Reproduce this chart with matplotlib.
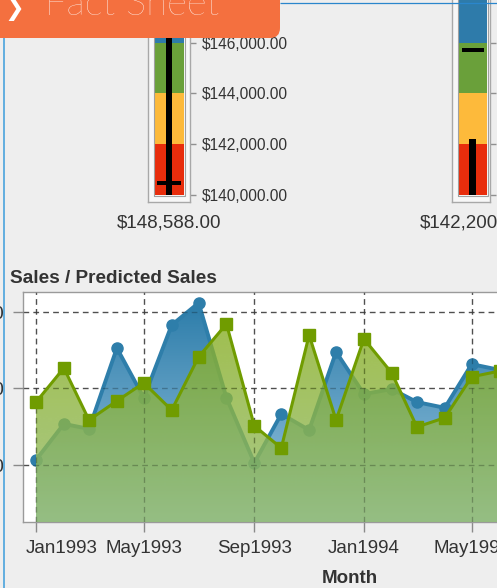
import numpy as np
import pandas as pd
import matplotlib
matplotlib.use('Agg')
import matplotlib.pyplot as plt
import matplotlib.dates as mdates
import matplotlib.transforms as mtransforms
from matplotlib.patches import Polygon, Rectangle, FancyBboxPatch
from matplotlib.ticker import FuncFormatter

plt.rcParams['font.family'] = ['Liberation Sans', 'DejaVu Sans']

W, H, DPI = 497, 588, 100

# ---------------- data ----------------
months = pd.date_range('1993-01-01', periods=18, freq='MS')
sales = [10130, 11070, 10940, 13050, 11750, 13650, 14230, 11750, 10050,
         11330, 10910, 12950, 11850, 11980, 11640, 11490, 12630, 12480]
predicted = [11640, 12530, 11170, 11670, 12140, 11430, 12820, 13680, 11020,
             10440, 13390, 11170, 13290, 12400, 10990, 11230, 12300, 12450]
sales_ticks = [10000, 12000, 14000]
month_ticks = pd.to_datetime(['1993-01-01', '1993-05-01', '1993-09-01',
                              '1994-01-01', '1994-05-01', '1994-09-01'])

gauge_values = [148588, 142200]
gauge_targets = [140470, 145710]
gauge_ticks = [140000, 142000, 144000, 146000]
band_edges = [140000, 142000, 144000, 146000, 150000]
band_colors = ['#E82D0C', '#FDBA3B', '#6AA03A', '#2E7BAA']

# ---------------- helpers ----------------
def fig_rect(x0, y0, x1, y1):
    return [x0 / W, 1 - y1 / H, (x1 - x0) / W, (y1 - y0) / H]

fig = plt.figure(figsize=(W / DPI, H / DPI), dpi=DPI, facecolor='#EEEEEE')

# ---------------- gauges ----------------
PX_PER_K = 25.38
def gval(ypx):
    return 140000 + (195 - ypx) / PX_PER_K * 1000

def draw_gauge(x0, x1, bx0, bx1, value, target, vbar_w, tgt_w):
    cx = (bx0 + bx1) / 2
    ax = fig.add_axes(fig_rect(x0, -5, x1, 202))
    ax.set_xlim(x0 - cx, x1 - cx)
    ax.set_ylim(gval(202), gval(-5))
    ax.set_facecolor('#F7F7F7')
    for s in ['left', 'right', 'bottom']:
        ax.spines[s].set_color('#A8A8A8')
        ax.spines[s].set_linewidth(1.0)
    ax.spines['top'].set_visible(False)
    half = (bx1 - bx0) / 2
    for lo, hi, c in zip(band_edges[:-1], band_edges[1:], band_colors):
        ax.bar(0, hi - lo, bottom=lo, width=2 * half, color=c, linewidth=0)
    ax.add_patch(Rectangle((-half - 0.5, band_edges[0] - 25), 2 * half + 1,
                           band_edges[-1] - band_edges[0], fill=False,
                           edgecolor='#A0A0A0', linewidth=0.8))
    ax.bar(0, value - band_edges[0], bottom=band_edges[0], width=vbar_w,
           color='black', linewidth=0, zorder=3)
    th = 4 / PX_PER_K * 1000
    ax.bar(0, th, bottom=target - th / 2, width=tgt_w, color='black',
           linewidth=0, zorder=4)
    ax.set_xticks([])
    ax.yaxis.tick_right()
    ax.set_yticks(gauge_ticks)
    ax.yaxis.set_major_formatter(FuncFormatter(lambda v, p: f'${v:,.2f}'))
    ax.tick_params(axis='y', length=4, width=1, color='#909090', pad=4.3,
                   labelsize=11.2, labelcolor='#333333')
    fig.text(cx / W, 1 - 227.7 / H, f'${value:,.2f}', ha='center',
             va='baseline', fontsize=13.5, color='#333333')

draw_gauge(148, 190, 154, 184, gauge_values[0], gauge_targets[0], 5.5, 24)
draw_gauge(452, 490, 458, 487, gauge_values[1], gauge_targets[1], 7, 22)

# ---------------- main chart ----------------
ax = fig.add_axes(fig_rect(23, 292, 677, 522))
ax.set_facecolor('white')
xl = (pd.Timestamp('1993-01-01') - pd.Timedelta(days=14.5),
      pd.Timestamp('1994-12-01') + pd.Timedelta(days=14.5))
yl = (8509, 14514)

blue = '#2E7EAA'
green = '#709C00'
ax.plot(months, sales, color=blue, lw=2.8, marker='o', ms=8,
        mfc=blue, mec=blue, zorder=3)
ax.plot(months, predicted, color=green, lw=2.2, marker='s', ms=8.5,
        mfc=green, mec=green, zorder=6)

def gradient_fill(x, y, top_rgb, bot_rgb, alpha, zorder):
    xs = mdates.date2num(x)
    verts = [(xs[0], yl[0])] + list(zip(xs, y)) + [(xs[-1], yl[0])]
    poly = Polygon(verts, closed=True, facecolor='none', edgecolor='none')
    ax.add_patch(poly)
    t = np.linspace(0, 1, 256)[:, None]
    img = np.zeros((256, 1, 4))
    top = np.array(top_rgb) / 255.0
    bot = np.array(bot_rgb) / 255.0
    img[..., :3] = (top + (bot - top) * t[..., None])
    img[..., 3] = alpha
    im = ax.imshow(img, aspect='auto', origin='upper',
                   extent=[xs[0], xs[-1], yl[0], yl[1]],
                   zorder=zorder, interpolation='bilinear')
    im.set_clip_path(poly)

gradient_fill(months, sales, (39, 121, 167), (157, 200, 226), 1.0, 2)
gradient_fill(months, predicted, (135, 173, 25), (148, 188, 108), 0.8, 4)

ax.set_xlim(*xl)
ax.set_ylim(*yl)

ax.xaxis.set_major_locator(mdates.MonthLocator(bymonth=[1, 5, 9]))
ax.xaxis.set_major_formatter(mdates.DateFormatter('%b%Y'))
ax.set_yticks(sales_ticks)
ax.yaxis.set_major_formatter(FuncFormatter(lambda v, p: f'${v:,.0f}'))

dash = (0, (4.3, 3.2))
ax.set_axisbelow(True)
ax.grid(True, color='#6A6A6A', linestyle=dash, linewidth=0.95)
for d in month_ticks:
    ax.axvline(d, color='black', alpha=0.25, linestyle=dash, lw=0.95, zorder=4.5)
for v in sales_ticks:
    ax.axhline(v, color='black', alpha=0.25, linestyle=dash, lw=0.95, zorder=4.5)

for s in ax.spines.values():
    s.set_color('#9A9A9A')
    s.set_linewidth(1.0)
ax.tick_params(axis='both', length=7.2, width=1, color='#8A8A8A',
               labelsize=13.5, labelcolor='#333333')
ax.tick_params(axis='x', pad=5.6)
ax.tick_params(axis='y', pad=5.8)
ax.set_xlabel('Month', fontsize=13.5, fontweight='bold', color='#333333',
              labelpad=9.5)

# first month label is nudged inside the panel, as in the reference
t0 = ax.xaxis.get_major_ticks()[0]
t0.label1.set_horizontalalignment('left')
t0.label1.set_transform(t0.label1.get_transform() +
                        mtransforms.ScaledTranslation(-10 / DPI, 0,
                                                      fig.dpi_scale_trans))

fig.text(10 / W, 1 - 283.3 / H, 'Sales / Predicted Sales', ha='left',
         va='baseline', fontsize=13.7, fontweight='bold', color='#333333')

# ---------------- overlay: tab and panel border ----------------
ov = fig.add_axes([0, 0, 1, 1], zorder=10)
ov.set_xlim(0, W)
ov.set_ylim(H, 0)
ov.axis('off')
ov.patch.set_alpha(0)
ov.plot([280, W], [2.5, 2.5], color='#2A86CC', lw=0.9, solid_capstyle='butt')
ov.plot([4, 4], [38, H], color='#4AA3DC', lw=1.2, solid_capstyle='butt')
ov.add_patch(FancyBboxPatch((-30, -30), 310, 68,
                            boxstyle='round,pad=0,rounding_size=10',
                            facecolor='#F4703F', edgecolor='none'))
ov.text(45, 15, 'Fact Sheet', color='white', fontsize=27.5,
        family=['Lato', 'DejaVu Sans'], fontweight='light', va='baseline',
        ha='left')
ov.text(4, 15, '\u276F', color='white', fontsize=17,
        family=['DejaVu Sans'], fontweight='bold', va='baseline', ha='left')

fig.savefig('out.png', dpi=DPI, facecolor=fig.get_facecolor())
